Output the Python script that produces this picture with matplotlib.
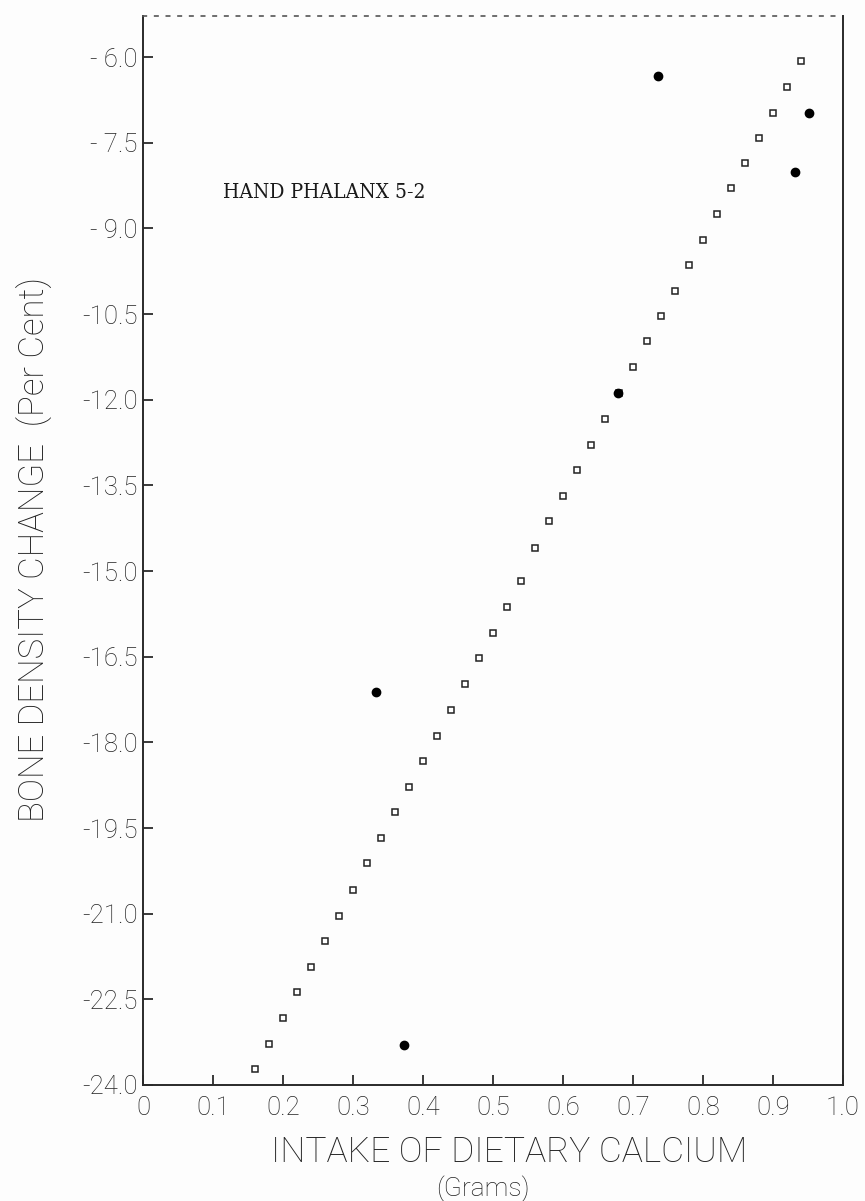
import matplotlib
matplotlib.use("Agg")
import matplotlib.pyplot as plt
from matplotlib.ticker import FixedLocator, FixedFormatter

# regression line points (open squares)
line_x = [0.16, 0.18, 0.20, 0.22, 0.24, 0.26, 0.28, 0.30, 0.32, 0.34,
          0.36, 0.38, 0.40, 0.42, 0.44, 0.46, 0.48, 0.50, 0.52, 0.54,
          0.56, 0.58, 0.60, 0.62, 0.64, 0.66, 0.68, 0.70, 0.72, 0.74,
          0.76, 0.78, 0.80, 0.82, 0.84, 0.86, 0.88, 0.90, 0.92, 0.94]
line_y = [-23.72, -23.29, -22.83, -22.38, -21.94, -21.48, -21.04, -20.58, -20.12, -19.67,
          -19.22, -18.78, -18.33, -17.88, -17.43, -16.98, -16.53, -16.08, -15.63, -15.18,
          -14.59, -14.13, -13.68, -13.23, -12.79, -12.33, -11.88, -11.42, -10.98, -10.53,
          -10.09, -9.64, -9.20, -8.74, -8.29, -7.85, -7.41, -6.97, -6.52, -6.07]

# observed subjects (filled dots)
obs_x = [0.735, 0.951, 0.931, 0.678, 0.333, 0.373]
obs_y = [-6.33, -6.97, -8.01, -11.88, -17.12, -23.30]

xticks = [0, 0.1, 0.2, 0.3, 0.4, 0.5, 0.6, 0.7, 0.8, 0.9, 1.0]
xtick_labels = ["0", "0.1", "0.2", "0.3", "0.4", "0.5", "0.6", "0.7", "0.8", "0.9", "1.0"]
yticks = [-6.0, -7.5, -9.0, -10.5, -12.0, -13.5, -15.0, -16.5, -18.0, -19.5, -21.0, -22.5, -24.0]
ytick_labels = ["- 6.0", "- 7.5", "- 9.0", "-10.5", "-12.0", "-13.5", "-15.0",
                "-16.5", "-18.0", "-19.5", "-21.0", "-22.5", "-24.0"]

ink = "#222222"
plt.rcParams['font.family'] = ["Roboto", "DejaVu Sans"]
plt.rcParams['font.weight'] = "light"

W, H = 865, 1201
fig = plt.figure(figsize=(W / 100, H / 100), dpi=100, facecolor="#fdfdfd")
ax = fig.add_axes([143 / W, 1 - 1085 / H, 700 / W, (1085 - 16) / H])
ax.set_facecolor("#fdfdfd")

ax.plot(line_x, line_y, ls="none", marker="s", ms=3.8, mfc="white", mec="#222222", mew=1.1)
ax.plot(obs_x, obs_y, ls="none", marker="o", ms=6.0, mfc="black", mec="black")

ax.set_xlim(0, 1.0)
ax.set_ylim(-24.0, -5.28)

ax.xaxis.set_major_locator(FixedLocator(xticks))
ax.xaxis.set_major_formatter(FixedFormatter(xtick_labels))
ax.yaxis.set_major_locator(FixedLocator(yticks))
ax.yaxis.set_major_formatter(FixedFormatter(ytick_labels))
ax.tick_params(axis="both", direction="in", length=7, width=1.3, color="#2a2a2a",
               labelsize=18.5, labelcolor=ink)
ax.tick_params(axis="y", pad=4)
ax.tick_params(axis="x", pad=8)

for side in ["left", "bottom", "right"]:
    ax.spines[side].set_linewidth(1.4)
    ax.spines[side].set_color("#2a2a2a")
ax.spines["top"].set_linewidth(1.2)
ax.spines["top"].set_color("#555555")
ax.spines["top"].set_linestyle((0, (2, 5)))

ax.text(223 / W, 1 - 193 / H, "HAND PHALANX 5-2", transform=fig.transFigure,
        ha="left", va="center", fontsize=15, family="DejaVu Serif", weight="normal",
        fontstretch="condensed", color="#1a1a1a")

fig.text(35 / W, 1 - 550 / H, "BONE DENSITY CHANGE  (Per Cent)", rotation=90,
         ha="center", va="center", fontsize=25, color=ink)
fig.text(509 / W, 1 - 1152 / H, "INTAKE OF DIETARY CALCIUM",
         ha="center", va="center", fontsize=25.5, color=ink)
fig.text(483 / W, 1 - 1189 / H, "(Grams)",
         ha="center", va="center", fontsize=19, color=ink)

fig.savefig("out.png", dpi=100, facecolor=fig.get_facecolor())
